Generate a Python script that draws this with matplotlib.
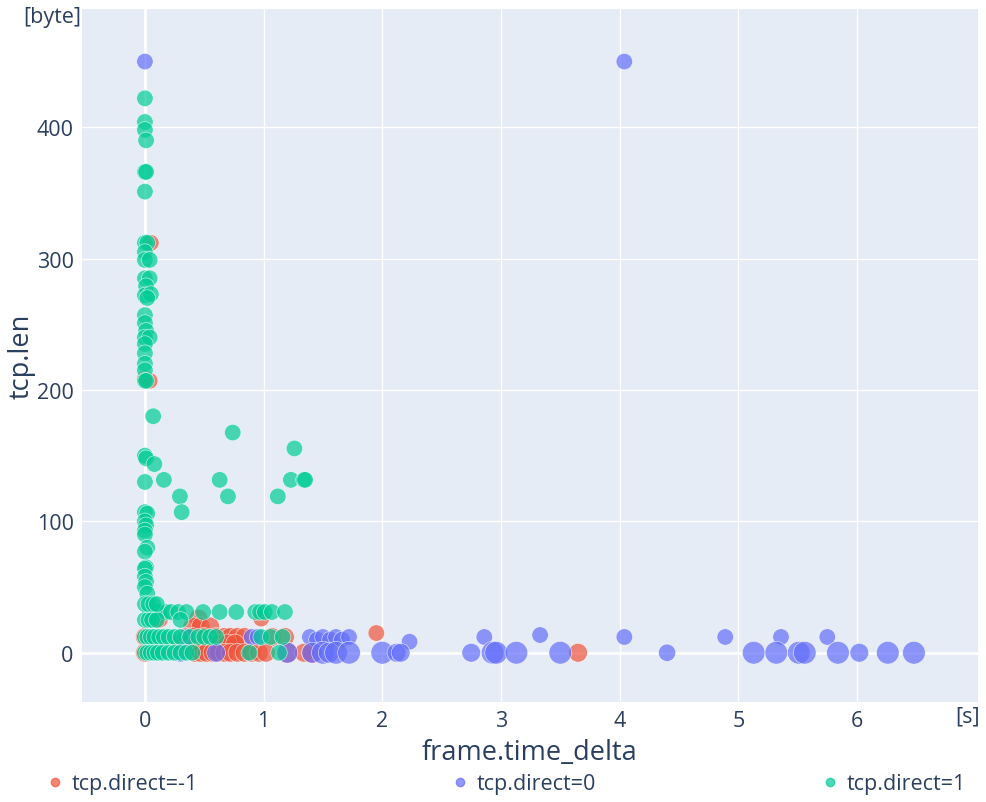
import numpy as np
import matplotlib
matplotlib.use("Agg")
import matplotlib.pyplot as plt
from matplotlib.lines import Line2D

plt.rcParams['font.family'] = ['Open Sans', 'DejaVu Sans']

TXT = '#2a3f5f'
BG = '#E5ECF6'

# tcp.direct = -1
red_x = [0.05, 0.04, 0.00, 1.95, 3.65,
         0.12, 0.45, 0.98, 0.40, 0.47, 0.55,
         0.00, 0.35, 0.40, 0.50, 0.60, 0.67, 0.72, 0.78, 0.84, 1.07, 1.18,
         0.30, 0.38, 0.45, 0.55, 0.62, 0.70, 0.76,
         0.00, 0.42, 0.47, 0.52, 0.57, 0.62, 0.67, 0.72, 0.78, 0.84, 0.90, 0.96, 1.02, 1.20, 1.34, 1.41]
red_y = [312, 207, 209, 15, 0,
         26, 26, 26, 20, 20, 20,
         12, 12, 12, 12, 12, 12, 12, 12, 12, 12, 12,
         7, 7, 7, 7, 7, 7, 7,
         0, 0, 0, 0, 0, 0, 0, 0, 0, 0, 0, 0, 0, 0, 0, 0]
red_s = [1.0, 1.0, 1.0, 1.0, 1.3,
         1.3, 1.3, 1.0, 1.3, 1.3, 1.3,
         1.3, 1.3, 1.3, 1.3, 1.3, 1.3, 1.3, 1.3, 1.3, 1.3, 1.3,
         1.3, 1.3, 1.3, 1.3, 1.3, 1.3, 1.3,
         1.3, 1.3, 1.3, 1.3, 1.3, 1.3, 1.3, 1.3, 1.3, 1.3, 1.3, 1.3, 1.3, 1.6, 1.3, 1.6]

# tcp.direct = 0
blue_x = [0.00, 4.04,
          0.35, 0.90, 0.95, 1.39, 1.45, 1.50, 1.56, 1.61, 1.66, 1.72,
          2.23, 2.86, 3.33, 4.04, 4.89, 5.36, 5.75,
          0.30, 0.60, 1.20, 1.41, 1.50, 1.55, 1.61, 1.72, 2.00, 2.12, 2.155,
          2.75, 2.93, 2.96, 3.13, 3.50, 4.40, 5.13, 5.32, 5.51, 5.56, 5.84, 6.02, 6.26, 6.48]
blue_y = [450, 450,
          12, 12, 12, 12, 10, 12, 10, 12, 10, 12,
          8.4, 12, 13.5, 12, 12, 12, 12,
          0, 0, 0, 0, 0, 0, 0, 0, 0, 0, 0,
          0, 0, 0, 0, 0, 0, 0, 0, 0, 0, 0, 0, 0, 0]
blue_s = [1.0, 1.0,
          1.0, 1.0, 1.0, 1.0, 1.0, 1.0, 1.0, 1.0, 1.0, 1.0,
          1.0, 1.0, 1.0, 1.0, 1.0, 1.0, 1.0,
          1.3, 1.3, 1.6, 1.6, 1.9, 1.6, 1.9, 1.9, 1.9, 1.3, 1.3,
          1.3, 1.9, 1.9, 1.9, 1.9, 1.1, 1.9, 1.9, 1.9, 1.9, 1.9, 1.3, 1.9, 1.9]

# tcp.direct = 1
green_x = [0.00, 0.00, 0.00, 0.01, 0.00, 0.01, 0.00, 0.00, 0.02, 0.00, 0.00, 0.04,
           0.00, 0.04, 0.01, 0.00, 0.05, 0.02, 0.00, 0.00, 0.01, 0.00, 0.04, 0.00,
           0.00, 0.00, 0.00, 0.00, 0.01,
           0.00, 0.01, 0.00, 0.00, 0.02, 0.00, 0.01, 0.00, 0.00, 0.02, 0.00, 0.01,
           0.00, 0.00, 0.01, 0.00, 0.02,
           0.07, 0.74, 1.26, 0.08, 0.16, 0.63, 1.23, 1.34, 1.35, 0.295, 0.70, 1.12, 0.31,
           0.04, 0.08, 0.12, 0.18, 0.22, 0.28, 0.35, 0.49, 0.63, 0.77, 0.93, 0.97, 1.01, 1.07, 1.18,
           0.00, 0.03, 0.06, 0.10, 0.30,
           0.00, 0.03, 0.07, 0.10,
           0.00, 0.02, 0.05, 0.08, 0.12, 0.16, 0.20, 0.25, 0.30, 0.38, 0.45, 0.50, 0.55, 0.60,
           0.98, 1.06, 1.16,
           0.00, 0.02, 0.05, 0.08, 0.11, 0.15, 0.20, 0.25, 0.30, 0.35, 0.40, 0.88, 1.13]
green_y = [422, 404, 398, 390, 366, 366, 351, 312, 312, 305, 299, 299,
           285, 285, 279, 272, 273, 270, 257, 251, 245, 240, 240, 235,
           228, 220, 215, 207, 207,
           150, 148, 130, 107, 106, 100, 97, 93, 90, 80, 77,
           65, 64, 58, 54, 50, 45,
           180, 167.6, 155.5, 143.6, 131.6, 131.6, 131.6, 131.6, 131.6, 119, 119, 119, 107,
           31, 31, 31, 31, 31, 31, 31, 31, 31, 31, 31, 31, 31, 31, 31,
           25, 25, 25, 25, 25,
           37, 37, 37, 37,
           12, 12, 12, 12, 12, 12, 12, 12, 12, 12, 12, 12, 12, 12,
           12, 12, 12,
           0, 0, 0, 0, 0, 0, 0, 0, 0, 0, 0, 0, 0]
green_s = [1.0] * len(green_x)

series = [
    ('tcp.direct=-1', red_x, red_y, red_s, '#EF553B'),
    ('tcp.direct=0', blue_x, blue_y, blue_s, '#636EFA'),
    ('tcp.direct=1', green_x, green_y, green_s, '#00CC96'),
]

fig = plt.figure(figsize=(9.86, 8.03), dpi=100)
ax = fig.add_axes([82 / 986, 100 / 803, 896 / 986, 693 / 803])
ax.set_facecolor(BG)

handles = []
for name, xs, ys, ss, col in series:
    ax.scatter(xs, ys, s=np.array(ss) * 141, color=col, alpha=0.7,
               edgecolors='white', linewidths=0.5, zorder=3)
    handles.append(Line2D([], [], marker='o', linestyle='', color=col, alpha=0.7,
                          markersize=6, label=name))

ax.set_xlim(-0.53, 7.02)
ax.set_ylim(-37.5, 490)
ax.set_xticks(range(0, 7))
ax.set_yticks(range(0, 401, 100))
ax.grid(color='white', linewidth=1, zorder=0)
ax.set_axisbelow(True)
ax.axhline(0, color='white', linewidth=2, zorder=1)
ax.axvline(0, color='white', linewidth=2, zorder=1)
for sp in ax.spines.values():
    sp.set_visible(False)
ax.tick_params(length=0, labelsize=15.5, labelcolor=TXT, pad=6)

ax.set_xlabel('frame.time_delta', fontsize=19.5, color=TXT, labelpad=5)
ax.set_ylabel('tcp.len', fontsize=19.5, color=TXT)
ax.yaxis.set_label_coords((36 - 82) / 896, 0.5)

fig.text(968 / 986, 1 - 717 / 803, '[s]', fontsize=15.5, color=TXT, ha='center', va='center')
fig.text(52 / 986, 1 - 18 / 803, '[byte]', fontsize=15.5, color=TXT, ha='center', va='center')

# horizontal legend, one entry per slot like plotly's bottom legend
for h, dot_px in zip(handles, [55, 460, 830]):
    fig.legend(handles=[h], loc='center left', frameon=False,
               bbox_to_anchor=((dot_px - 11) / 986, 1 - 785 / 803),
               borderaxespad=0, borderpad=0, fontsize=15.5, labelcolor=TXT,
               handletextpad=0.3, handlelength=1.0)

fig.savefig('out.png', dpi=100)
